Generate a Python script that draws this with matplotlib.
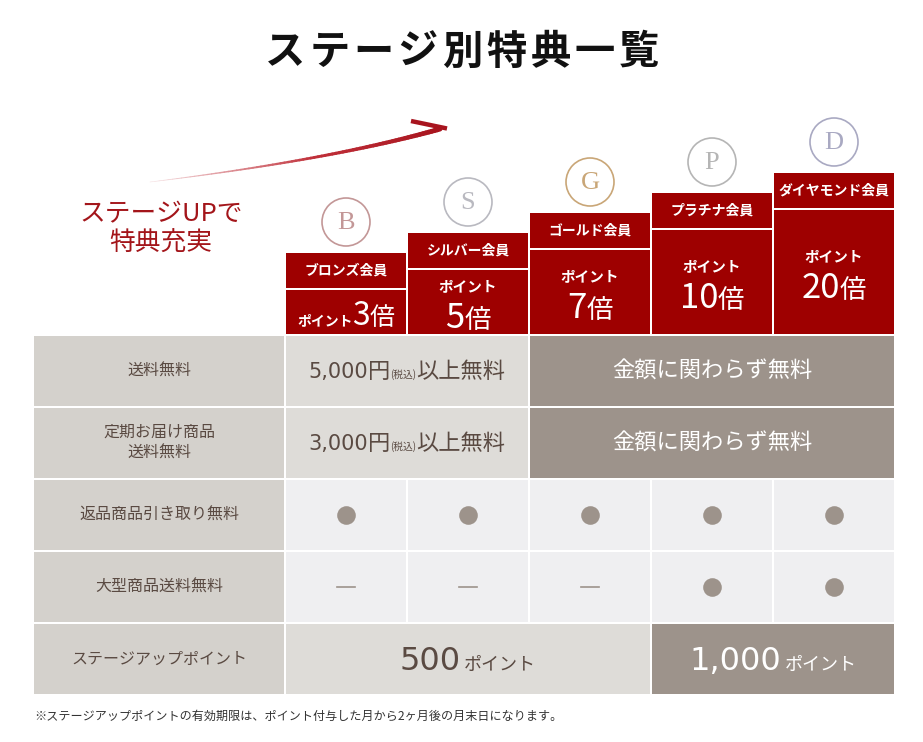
import matplotlib.pyplot as plt
from matplotlib.patches import Rectangle, Circle
from matplotlib.collections import LineCollection
from matplotlib.colors import LinearSegmentedColormap
import numpy as np

plt.rcParams['font.family'] = ['Noto Sans CJK JP', 'DejaVu Sans']

# Data
stages = ['ブロンズ会員', 'シルバー会員', 'ゴールド会員', 'プラチナ会員', 'ダイヤモンド会員']
stage_letters = ['B', 'S', 'G', 'P', 'D']
letter_colors = ['#c39797', '#b9b9c0', '#c9a677', '#b5b5b5', '#a9a9c2']
point_rates = ['3', '5', '7', '10', '20']
benefits = ['送料無料', '定期お届け商品\n送料無料', '返品商品引き取り無料',
            '大型商品送料無料', 'ステージアップポイント']
free_threshold = ['5,000', '3,000']          # bronze & silver (yen, tax incl.)
free_any = '金額に関わらず無料'               # gold and above
return_pickup = [True, True, True, True, True]
large_item = [False, False, False, True, True]
stage_up_points = ['500', '1,000']           # bronze-gold / platinum-diamond
note = '※ステージアップポイントの有効期限は、ポイント付与した月から2ヶ月後の月末日になります。'

# Colours
RED = '#9e0000'
LABEL_BG = '#d4d1cc'
LIGHT_BG = '#dedcd8'
DARK_BG = '#9d938b'
PALE_BG = '#efeff1'
TXT = '#5a4a42'
NUMF = 'DejaVu Sans'
JPF = 'Noto Sans CJK JP'

fig = plt.figure(figsize=(9.23, 7.42), dpi=100)
ax = fig.add_axes([0, 0, 1, 1])
ax.set_xlim(0, 923)
ax.set_ylim(742, 0)
ax.axis('off')
renderer = fig.canvas.get_renderer()

# grid geometry
left_x, left_w = 34, 250
col_x0, col_w, gap = 286, 120, 2
row_y0, row_h = 336, 70


def col_x(i):
    return col_x0 + (col_w + gap) * i


def row_y(j):
    return row_y0 + (row_h + gap) * j


def pieces(cx, base_y, parts, spacing=0):
    # draw a run of differently styled texts centred on cx
    texts = []
    for p in parts:
        s, fs, c = p[:3]
        fam = p[3] if len(p) > 3 else JPF
        wt = p[4] if len(p) > 4 else 'normal'
        texts.append(ax.text(0, base_y, s, fontsize=fs, color=c, va='baseline',
                             ha='left', family=[fam, 'DejaVu Sans'], fontweight=wt))
    widths = [t.get_window_extent(renderer).width for t in texts]
    x = cx - (sum(widths) + spacing * (len(widths) - 1)) / 2
    for t, w in zip(texts, widths):
        t.set_x(x)
        x += w + spacing


# Title (slightly letter-spaced)
pieces(462, 64, [(ch, 29, '#111111', JPF, 'bold') for ch in 'ステージ別特典一覧'], spacing=4)

# Arrow
t = np.linspace(0, 1, 80)
p0, p1, p2 = np.array([150, 182]), np.array([330, 160]), np.array([440, 129])
pts = (1 - t)[:, None] ** 2 * p0 + 2 * ((1 - t) * t)[:, None] * p1 + (t ** 2)[:, None] * p2
segs = np.stack([pts[:-1], pts[1:]], axis=1)
cmap = LinearSegmentedColormap.from_list('arr', ['#f6e0e2', '#c0303a', '#a8141e'])
lc = LineCollection(segs, colors=cmap(t[:-1]), linewidths=0.4 + 3.2 * t[:-1],
                    capstyle='round')
ax.add_collection(lc)
ax.plot([411, 447], [121, 128.5], color='#a8141e', lw=3.2, solid_capstyle='butt')

ax.text(161, 214, 'ステージUPで', fontsize=18.5, color='#a3151a', ha='center', va='center')
ax.text(161, 244, '特典充実', fontsize=18.5, color='#a3151a', ha='center', va='center')

# Stage headers
for i, name in enumerate(stages):
    x = col_x(i)
    cx = x + col_w / 2
    top = 253 - 20 * i
    ax.add_patch(Rectangle((x, top), col_w, 35, color=RED, lw=0))
    ax.add_patch(Rectangle((x, top + 37), col_w, 334 - top - 37, color=RED, lw=0))
    ax.text(cx, top + 17.5, name, fontsize=10, fontweight='bold', color='white',
            ha='center', va='center')
    ax.add_patch(Circle((cx, top - 31), 24, fill=False, ec=letter_colors[i], lw=1.2))
    ax.text(cx, top - 30, stage_letters[i], fontsize=19, family='Liberation Serif',
            color=letter_colors[i], ha='center', va='center')
    c = (top + 37 + 334) / 2
    if i == 0:
        pieces(cx, 325, [('ポイント', 10, 'white', JPF, 'bold'),
                         (point_rates[i], 23, 'white'), ('倍', 18, 'white')])
    else:
        ax.text(cx, c - 16, 'ポイント', fontsize=10.5, fontweight='bold',
                color='white', ha='center', va='center')
        pieces(cx, c + 26, [(point_rates[i], 25, 'white'), ('倍', 19, 'white')])

# Left labels
for j, lab in enumerate(benefits):
    y = row_y(j)
    ax.add_patch(Rectangle((left_x, y), left_w, row_h, color=LABEL_BG, lw=0))
    ax.text(left_x + left_w / 2, y + row_h / 2, lab, fontsize=11.5, color=TXT,
            ha='center', va='center', linespacing=1.3)

# Rows 1-2: shipping
for j in range(2):
    y = row_y(j)
    wl = 2 * col_w + gap
    ax.add_patch(Rectangle((col_x(0), y), wl, row_h, color=LIGHT_BG, lw=0))
    wr = 3 * col_w + 2 * gap
    ax.add_patch(Rectangle((col_x(2), y), wr, row_h, color=DARK_BG, lw=0))
    pieces(col_x(0) + wl / 2, y + row_h / 2 + 7,
           [(free_threshold[j], 15, TXT, NUMF), ('円', 16, TXT), ('(税込)', 7, TXT),
            ('以上無料', 16, TXT)])
    ax.text(col_x(2) + wr / 2, y + row_h / 2, free_any, fontsize=16, color='white',
            ha='center', va='center')

# Rows 3-4: dots / dashes
for j, vals in ((2, return_pickup), (3, large_item)):
    y = row_y(j)
    for i, v in enumerate(vals):
        ax.add_patch(Rectangle((col_x(i), y), col_w, row_h, color=PALE_BG, lw=0))
        cx = col_x(i) + col_w / 2
        if v:
            ax.scatter([cx], [y + row_h / 2], s=180, color=DARK_BG, lw=0, zorder=3)
        else:
            ax.plot([cx - 9, cx + 9], [y + row_h / 2] * 2, color=DARK_BG, lw=1.2)

# Row 5: stage-up points
y = row_y(4)
wl = 3 * col_w + 2 * gap
wr = 2 * col_w + gap
ax.add_patch(Rectangle((col_x(0), y), wl, row_h, color=LIGHT_BG, lw=0))
ax.add_patch(Rectangle((col_x(3), y), wr, row_h, color=DARK_BG, lw=0))
pieces(col_x(0) + wl / 2, y + row_h / 2 + 11,
       [(stage_up_points[0], 23, TXT, NUMF), ('ポイント', 13, TXT)], spacing=3)
pieces(col_x(3) + wr / 2, y + row_h / 2 + 11,
       [(stage_up_points[1], 23, 'white', NUMF), ('ポイント', 13, 'white')], spacing=3)

ax.text(34, 716, note, fontsize=8.7, color='#333333', ha='left', va='center')

fig.savefig('out.png', dpi=100)
